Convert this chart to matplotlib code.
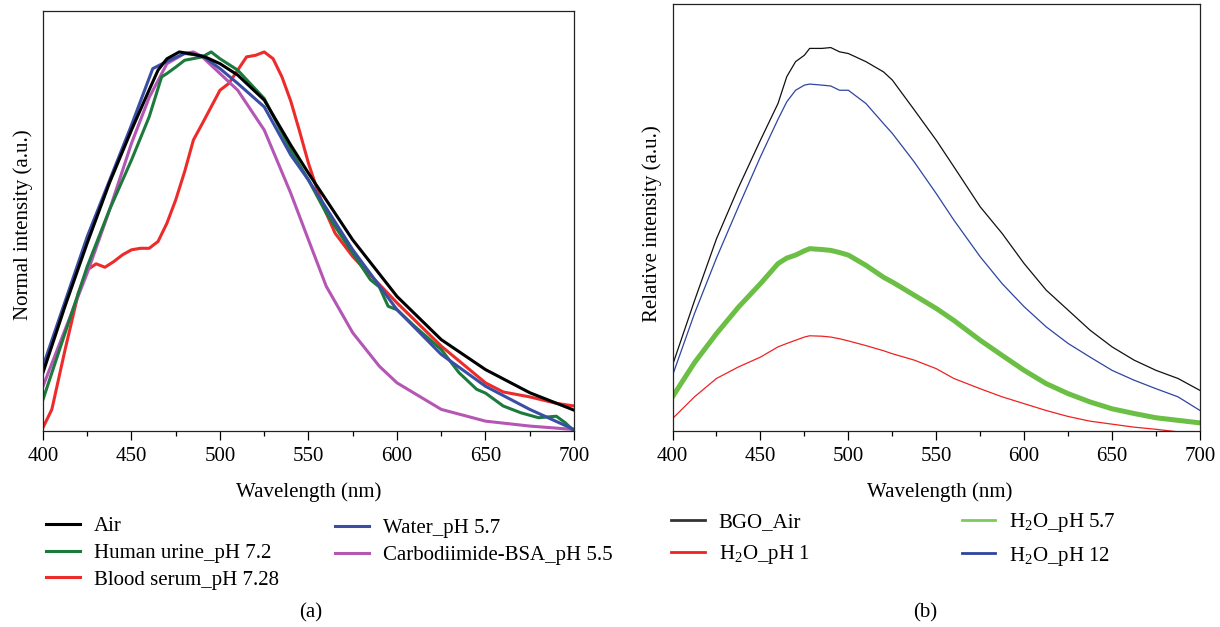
import matplotlib
matplotlib.use("Agg")
import matplotlib.pyplot as plt
from matplotlib.ticker import MultipleLocator
from matplotlib.lines import Line2D

plt.rcParams['font.family'] = ['Liberation Serif', 'DejaVu Serif']
plt.rcParams['mathtext.fontset'] = 'custom'
plt.rcParams['mathtext.rm'] = 'Liberation Serif'
plt.rcParams['mathtext.it'] = 'Liberation Serif:italic'

# ---------------- Panel (a) data (normalized intensity) ----------------
a_air_x = [400, 412.5, 425, 437.5, 450, 460, 465, 470, 477, 485, 492, 500, 510, 525, 540, 550,
           575, 600, 625, 650, 675, 700]
a_air_y = [0.154, 0.33, 0.496, 0.654, 0.794, 0.90, 0.952, 0.982, 1.0, 0.994, 0.986, 0.969, 0.939,
           0.873, 0.754, 0.68, 0.504, 0.355, 0.241, 0.162, 0.101, 0.055]

a_urine_x = [400, 412.5, 425, 437.5, 450, 460, 467, 470, 475, 480, 490, 495, 500, 510, 525, 540, 550,
             560, 575, 585, 590, 595, 600, 610, 625, 635, 645, 650, 660, 670, 680, 690, 695, 700]
a_urine_y = [0.083, 0.259, 0.434, 0.583, 0.715, 0.829, 0.934, 0.943, 0.96, 0.978, 0.987, 1.0, 0.982,
             0.952, 0.877, 0.741, 0.662, 0.575, 0.469, 0.399, 0.38, 0.329, 0.32, 0.276, 0.215, 0.154,
             0.11, 0.10, 0.066, 0.048, 0.035, 0.039, 0.022, 0.0]

a_serum_x = [400, 405, 412.5, 420, 425, 430, 435, 440, 445, 450, 455, 460, 465, 470, 475, 480, 485,
             490, 495, 500, 505, 510, 515, 520, 525, 530, 535, 540, 545, 550, 555, 560, 565, 575,
             600, 625, 650, 660, 675, 690, 700]
a_serum_y = [0.009, 0.057, 0.215, 0.364, 0.425, 0.441, 0.432, 0.447, 0.465, 0.478, 0.482, 0.482, 0.50,
             0.548, 0.61, 0.684, 0.768, 0.811, 0.855, 0.899, 0.917, 0.952, 0.987, 0.991, 1.0, 0.982,
             0.934, 0.87, 0.79, 0.706, 0.636, 0.575, 0.522, 0.46, 0.338, 0.224, 0.127, 0.103, 0.09,
             0.073, 0.066]

a_water_x = [400, 425, 450, 462, 470, 480, 490, 500, 510, 525, 540, 550, 575, 600, 625, 650, 675, 700]
a_water_y = [0.171, 0.513, 0.807, 0.956, 0.975, 0.996, 0.99, 0.956, 0.917, 0.855, 0.728, 0.662,
             0.478, 0.32, 0.202, 0.118, 0.057, 0.004]

a_bsa_x = [400, 425, 437, 450, 460, 470, 480, 485, 490, 500, 510, 525, 540, 550, 560, 575, 590, 600,
           625, 650, 675, 700]
a_bsa_y = [0.118, 0.417, 0.575, 0.759, 0.88, 0.969, 0.996, 1.0, 0.987, 0.943, 0.899, 0.794, 0.627,
           0.504, 0.382, 0.259, 0.171, 0.127, 0.057, 0.026, 0.013, 0.004]

# ---------------- Panel (b) data (relative intensity) ----------------
b_x = [400, 412.5, 425, 437.5, 450, 460, 465, 470, 475, 478, 485, 490, 495, 500, 510, 520, 525,
       537.5, 550, 560, 575, 587.5, 600, 612.5, 625, 637.5, 650, 662.5, 675, 687.5, 700]
b_air = [0.154, 0.305, 0.45, 0.57, 0.681, 0.767, 0.83, 0.865, 0.88, 0.896, 0.896, 0.898, 0.888,
         0.884, 0.865, 0.841, 0.822, 0.752, 0.681, 0.619, 0.525, 0.4625, 0.392, 0.33, 0.283, 0.236,
         0.197, 0.166, 0.142, 0.123, 0.095]
b_ph12 = [0.13, 0.275, 0.405, 0.525, 0.642, 0.73, 0.771, 0.798, 0.81, 0.8125, 0.81, 0.808, 0.798,
          0.798, 0.767, 0.72, 0.697, 0.63, 0.556, 0.494, 0.408, 0.345, 0.291, 0.244, 0.205, 0.173,
          0.142, 0.119, 0.099, 0.08, 0.048]
b_ph57 = [0.08, 0.16, 0.228, 0.29, 0.345, 0.392, 0.405, 0.412, 0.422, 0.427, 0.425, 0.423, 0.418,
          0.412, 0.388, 0.36, 0.349, 0.318, 0.287, 0.259, 0.2125, 0.177, 0.142, 0.111, 0.0875,
          0.068, 0.052, 0.041, 0.031, 0.025, 0.019]
b_ph1 = [0.029, 0.08, 0.123, 0.15, 0.173, 0.197, 0.205, 0.2125, 0.22, 0.223, 0.222, 0.22, 0.216,
         0.211, 0.2, 0.188, 0.181, 0.166, 0.146, 0.123, 0.099, 0.08, 0.064, 0.048, 0.034, 0.023,
         0.016, 0.009, 0.004, -0.002, -0.01]

xticks = [400, 450, 500, 550, 600, 650, 700]

W, H = 1220, 627
fig = plt.figure(figsize=(W / 100, H / 100), dpi=100)

def px_axes(l, r, t, b):
    return fig.add_axes([l / W, 1 - b / H, (r - l) / W, (b - t) / H])

axa = px_axes(43, 574, 11, 431)
axb = px_axes(672.5, 1200, 4, 431)

lwa = 2.2
axa.plot(a_serum_x, a_serum_y, color='#ee2b2b', lw=lwa, label='Blood serum_pH 7.28')
axa.plot(a_bsa_x, a_bsa_y, color='#b456b4', lw=lwa, label='Carbodiimide-BSA_pH 5.5')
axa.plot(a_urine_x, a_urine_y, color='#1c7a3c', lw=lwa, label='Human urine_pH 7.2')
axa.plot(a_water_x, a_water_y, color='#3a4ea6', lw=lwa, label='Water_pH 5.7')
axa.plot(a_air_x, a_air_y, color='#000000', lw=lwa, label='Air')
axa.set_ylim(0, 1.108)

axb.plot(b_x, b_ph57, color='#6bbf45', lw=3.6)
axb.plot(b_x, b_air, color='#111111', lw=0.9)
axb.plot(b_x, b_ph12, color='#2d45a0', lw=0.9)
axb.plot(b_x, b_ph1, color='#ee2222', lw=0.9)
axb.set_ylim(0, 1.0)

for ax in (axa, axb):
    ax.set_xlim(400, 700)
    ax.set_xticks(xticks)
    ax.xaxis.set_minor_locator(MultipleLocator(25))
    ax.set_yticks([])
    ax.tick_params(axis='x', which='major', direction='out', length=6.5, width=0.9,
                   labelsize=15, pad=5, top=False)
    ax.tick_params(axis='x', which='minor', direction='out', length=3.6, width=0.9, top=False)
    for s in ax.spines.values():
        s.set_linewidth(0.9)
        s.set_color('#222222')

fs = 15
fig.text(309 / W, 1 - 492 / H, 'Wavelength (nm)', ha='center', va='center', fontsize=fs)
fig.text(940 / W, 1 - 492 / H, 'Wavelength (nm)', ha='center', va='center', fontsize=fs)
fig.text(23 / W, 1 - 225 / H, 'Normal intensity (a.u.)', ha='center', va='center',
         rotation=90, fontsize=fs)
fig.text(652 / W, 1 - 224 / H, 'Relative intensity (a.u.)', ha='center', va='center',
         rotation=90, fontsize=fs)
fig.text(311 / W, 1 - 613 / H, '(a)', ha='center', va='center', fontsize=fs)
fig.text(925 / W, 1 - 613 / H, '(b)', ha='center', va='center', fontsize=fs)

def add_legend(entries, x_px, ycenter_px, lw=2.2, spacing=0.35):
    handles = [Line2D([], [], color=c, lw=lw) for c, _ in entries]
    labels = [t for _, t in entries]
    leg = fig.legend(handles, labels, loc='center left',
                     bbox_to_anchor=(x_px / W, 1 - ycenter_px / H),
                     frameon=False, fontsize=fs, handlelength=1.63, handletextpad=0.67,
                     labelspacing=spacing, borderpad=0, borderaxespad=0)
    return leg

add_legend([('#000000', 'Air'), ('#1c7a3c', 'Human urine_pH 7.2'),
            ('#ee2b2b', 'Blood serum_pH 7.28')], 45.7, 553)
add_legend([('#3a4ea6', 'Water_pH 5.7'), ('#b456b4', 'Carbodiimide-BSA_pH 5.5')], 335, 542)
add_legend([('#333333', 'BGO_Air'), ('#ee2222', r'H$_2$O_pH 1')], 670.8, 539.5, lw=2, spacing=0.5)
add_legend([('#7ccc5c', r'H$_2$O_pH 5.7'), ('#2d45a0', r'H$_2$O_pH 12')], 961.5, 539.5, lw=2,
           spacing=0.5)

fig.savefig('out.png', dpi=100)
